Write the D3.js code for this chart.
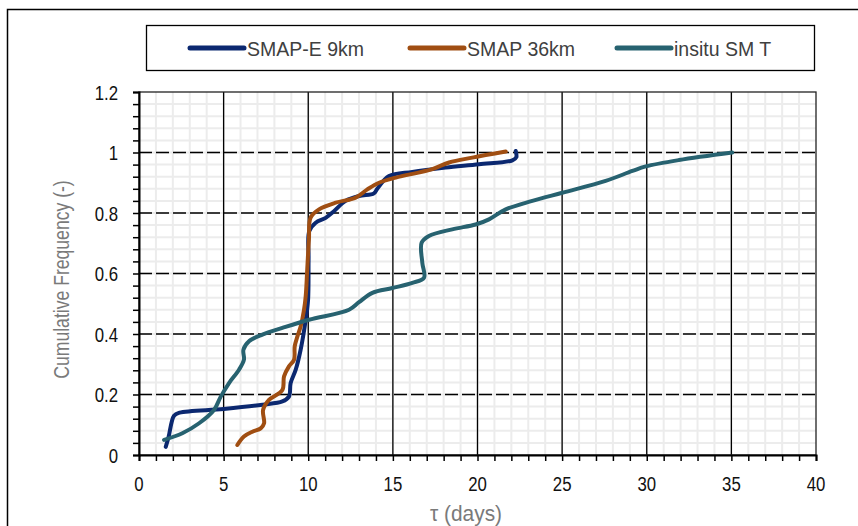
<!DOCTYPE html>
<head>
<meta charset="utf-8">
<script src="https://cdn.jsdelivr.net/npm/d3@7/dist/d3.min.js"></script>
<style>
body { margin: 0; background: #fff; }
text { font-family: "Liberation Sans Narrow", "Liberation Sans", Arial, sans-serif; }
</style>
</head>
<body>
<script>
// series: [tau (days), cumulative frequency]
var smapE9 = [[1.58,0.027],[1.75,0.06],[2.07,0.13],[2.4,0.14],[5.0,0.152],[7.29,0.166],[8.47,0.177],[8.86,0.193],
  [8.96,0.238],[9.26,0.282],[9.55,0.348],[9.85,0.447],[9.99,0.514],[10.02,0.65],[10.06,0.74],[10.44,0.768],
  [11.03,0.784],[11.52,0.806],[12.21,0.84],[13.0,0.856],[13.88,0.865],[14.08,0.88],[14.77,0.922],[16.15,0.936],
  [18.12,0.95],[20.09,0.961],[22.06,0.974],[22.3,0.985],[22.26,1.005]];
var smap36 = [[5.81,0.033],[6.2,0.061],[6.7,0.077],[7.19,0.088],[7.39,0.105],[7.33,0.149],[7.68,0.182],[8.47,0.215],
  [8.57,0.26],[8.86,0.293],[9.16,0.315],[9.2,0.359],[9.36,0.392],[9.55,0.425],[9.75,0.48],[9.85,0.525],[9.94,0.613],
  [10.04,0.713],[10.14,0.785],[10.64,0.812],[11.62,0.834],[12.8,0.851],[13.49,0.878],[14.18,0.9],[15.17,0.917],
  [17.33,0.945],[18.32,0.967],[19.69,0.983],[21.67,1.003]];
var insitu = [[1.48,0.05],[2.56,0.072],[3.55,0.105],[4.43,0.149],[4.83,0.193],[5.32,0.238],[5.91,0.282],[6.2,0.315],
  [6.17,0.348],[6.5,0.376],[7.29,0.398],[8.47,0.42],[10.04,0.447],[12.41,0.48],[13.0,0.505],[13.79,0.536],
  [14.97,0.552],[16.15,0.569],[16.84,0.586],[16.74,0.635],[16.7,0.702],[17.13,0.724],[18.51,0.746],[19.89,0.762],
  [20.68,0.779],[21.67,0.812],[23.24,0.84],[25.01,0.867],[27.57,0.906],[29.15,0.939],[29.94,0.954],[31.9,0.975],[35.05,1.0]];

var seriesNames = ["SMAP-E 9km", "SMAP 36km", "insitu SM T"];
var seriesColors = ["#0b2870", "#a04e12", "#276270"];
var xTicks = [0, 5, 10, 15, 20, 25, 30, 35, 40];
var yTicks = [0, 0.2, 0.4, 0.6, 0.8, 1, 1.2];

var W = 858, H = 526;
var pLeft = 139, pRight = 816, pTop = 92, pBottom = 455;
var narrow = 0.8; // squeeze text to look like a narrow font

var svg = d3.select("body").append("svg")
  .attr("width", W)
  .attr("height", H);

// outer frame
svg.append("rect")
  .attr("x", 7.5).attr("y", 9.5)
  .attr("width", W).attr("height", H)
  .style("fill", "none").style("stroke", "#000").style("stroke-width", 1.5);

var x = d3.scaleLinear().domain([0, 40]).range([pLeft, pRight]);
var y = d3.scaleLinear().domain([0, 1.2]).range([pBottom, pTop]);

// minor grid
var g = svg.append("g");
g.selectAll(".mx").data(d3.range(1, 40)).enter().append("line")
  .attr("x1", d => x(d)).attr("x2", d => x(d))
  .attr("y1", pTop).attr("y2", pBottom)
  .style("stroke", "#ececec").style("stroke-width", 2);
g.selectAll(".my").data(d3.range(1, 30).map(d => d * 0.04)).enter().append("line")
  .attr("x1", pLeft).attr("x2", pRight)
  .attr("y1", d => y(d)).attr("y2", d => y(d))
  .style("stroke", "#ececec").style("stroke-width", 2);

// major grid
g.selectAll(".gx").data(xTicks.slice(1, -1)).enter().append("line")
  .attr("x1", d => x(d)).attr("x2", d => x(d))
  .attr("y1", pTop).attr("y2", pBottom)
  .style("stroke", "#000").style("stroke-width", 1.3);
g.selectAll(".gy").data(yTicks.slice(1, -1)).enter().append("line")
  .attr("x1", pLeft).attr("x2", pRight)
  .attr("y1", d => y(d)).attr("y2", d => y(d))
  .style("stroke", "#000").style("stroke-width", 1.3)
  .style("stroke-dasharray", "13,4");

// plot border
svg.append("rect")
  .attr("x", pLeft).attr("y", pTop)
  .attr("width", pRight - pLeft).attr("height", pBottom - pTop)
  .style("fill", "none").style("stroke", "#222").style("stroke-width", 1.3);

// axes
var xAxis = svg.append("g").attr("transform", "translate(0," + pBottom + ")")
  .call(d3.axisBottom(x).tickValues(d3.range(0, 41)).tickSize(6).tickFormat(""));
var yAxis = svg.append("g").attr("transform", "translate(" + pLeft + ",0)")
  .call(d3.axisLeft(y).tickValues(d3.range(0, 31).map(d => d * 0.04)).tickSize(6).tickFormat(""));
[xAxis, yAxis].forEach(function(a) {
  a.select(".domain").style("stroke", "#000").style("stroke-width", 2);
  a.selectAll(".tick line").style("stroke", "#000").style("stroke-width", 1.5);
});

svg.selectAll(".xl").data(xTicks).enter().append("text")
  .attr("transform", d => "translate(" + x(d) + ",491) scale(" + narrow + ",1)")
  .attr("text-anchor", "middle")
  .style("font-size", "21px").style("fill", "#111")
  .text(d => d);
svg.selectAll(".yl").data(yTicks).enter().append("text")
  .attr("transform", d => "translate(118," + (y(d) + 7.5) + ") scale(" + narrow + ",1)")
  .attr("text-anchor", "end")
  .style("font-size", "21px").style("fill", "#111")
  .text(d => d);

svg.append("text")
  .attr("transform", "translate(466,521) scale(0.95,1)")
  .attr("text-anchor", "middle")
  .style("font-size", "22px").style("fill", "#7a7a7a")
  .text("τ (days)");
svg.append("text")
  .attr("transform", "translate(69," + ((pTop + pBottom) / 2 + 6) + ") rotate(-90) scale(" + narrow + ",1)")
  .attr("text-anchor", "middle")
  .style("font-size", "22px").style("fill", "#7a7a7a")
  .text("Cumulative Frequency (-)");

// lines
var line = d3.line()
  .x(d => x(d[0])).y(d => y(d[1]))
  .curve(d3.curveCatmullRom.alpha(0.5));
var allSeries = [smapE9, smap36, insitu];
svg.selectAll(".series").data(allSeries).enter().append("path")
  .attr("d", line)
  .style("fill", "none")
  .style("stroke", (d, i) => seriesColors[i])
  .style("stroke-width", 4)
  .style("stroke-linecap", "round")
  .style("stroke-linejoin", "round");

// legend
svg.append("rect")
  .attr("x", 146.5).attr("y", 25.5)
  .attr("width", 668).attr("height", 45)
  .style("fill", "#fff").style("stroke", "#000").style("stroke-width", 1.3);
var legX = [190, 410, 617];
var leg = svg.selectAll(".leg").data(seriesNames).enter().append("g")
  .attr("transform", (d, i) => "translate(" + legX[i] + ",48)");
leg.append("line")
  .attr("x1", 0).attr("x2", 54)
  .style("stroke", (d, i) => seriesColors[i])
  .style("stroke-width", 5).style("stroke-linecap", "round");
leg.append("text")
  .attr("transform", "translate(57,7.5) scale(0.93,1)")
  .style("font-size", "21px").style("fill", "#404040")
  .text(d => d);
</script>
</body>
